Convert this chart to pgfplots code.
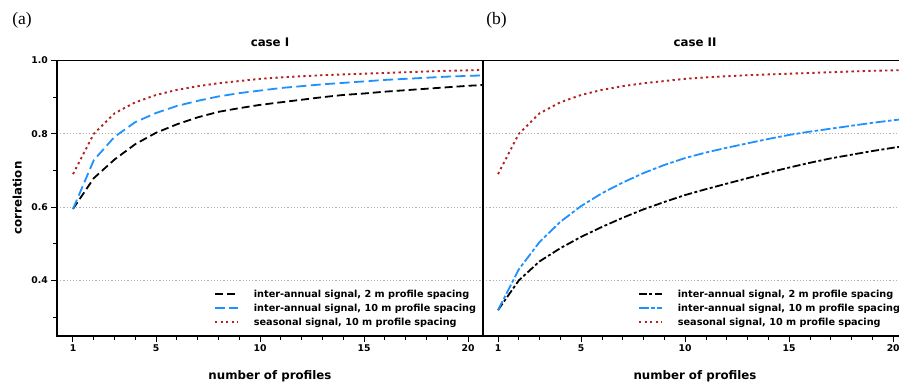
\documentclass[border=0pt]{standalone}
\usepackage{fontspec}
\setmainfont{DejaVu Sans}
\newfontfamily\seriffont{Liberation Serif}
\usepackage{pgfplots}
\usepackage{pgfplotstable}
\pgfplotsset{compat=1.18}
\definecolor{cblue}{RGB}{30,144,255}
\definecolor{cred}{RGB}{178,34,34}

\pgfplotstableread{
n  b2    b10   s10
1  0.595 0.595 0.690
2  0.679 0.728 0.800
3  0.730 0.792 0.856
4  0.772 0.832 0.886
5  0.803 0.857 0.906
6  0.826 0.876 0.920
7  0.845 0.890 0.930
8  0.860 0.902 0.938
9  0.870 0.911 0.944
10 0.879 0.918 0.950
11 0.886 0.925 0.954
12 0.893 0.930 0.957
13 0.900 0.935 0.960
14 0.906 0.939 0.962
15 0.910 0.943 0.964
16 0.915 0.947 0.966
17 0.919 0.950 0.968
18 0.923 0.953 0.970
19 0.927 0.956 0.972
20 0.931 0.958 0.973
21 0.934 0.960 0.975
}\caseone

\pgfplotstableread{
n  b2    b10   s10
1  0.319 0.319 0.690
2  0.400 0.430 0.800
3  0.452 0.505 0.856
4  0.488 0.560 0.886
5  0.519 0.603 0.906
6  0.546 0.638 0.920
7  0.571 0.667 0.930
8  0.594 0.693 0.938
9  0.614 0.715 0.944
10 0.633 0.734 0.950
11 0.649 0.749 0.954
12 0.664 0.762 0.957
13 0.679 0.774 0.960
14 0.694 0.786 0.962
15 0.708 0.797 0.964
16 0.721 0.806 0.966
17 0.733 0.814 0.968
18 0.743 0.822 0.970
19 0.753 0.830 0.972
20 0.762 0.837 0.973
21 0.770 0.843 0.975
}\casetwo

\pgfplotsset{
  panel/.style={
    scale only axis, width=426pt, height=275.5pt,
    ymin=0.2483, ymax=1.0,
    xtick={1,5,10,15,20}, minor xtick={1,...,21},
    tick align=outside, xtick pos=left, ytick pos=left,
    major tick length=5.5pt, minor tick length=3.5pt,
    every tick/.style={black, line width=1pt},
    axis line style={line width=1.3pt},
    ymajorgrids,
    major grid style={black!30, line width=1pt, dash pattern=on 1.2pt off 2pt},
    tick label style={font=\bfseries\fontsize{9.3}{11}\selectfont},
    /pgf/number format/assume math mode=true,
    yticklabel style={/pgf/number format/.cd, fixed, fixed zerofill, precision=1},
    legend cell align=left,
    legend style={draw=none, fill=none, anchor=north west,
      inner sep=0pt, outer sep=0pt, column sep=15pt, row sep=4.1pt,
      font=\bfseries\fontsize{9.7}{12}\selectfont,
      nodes={inner sep=0pt, text height=7.6pt, text depth=2.4pt, anchor=base west}},
    legend image code/.code={\draw[##1] (0pt,3.4pt) -- (23pt,3.4pt);},
  }
}

\begin{document}
\begin{tikzpicture}
\useasboundingbox (0,0) rectangle (899pt,381pt);
\clip (0,0) rectangle (899pt,381pt);

\begin{axis}[panel, at={(57pt,45pt)}, anchor=south west,
    xmin=0.231, xmax=20.712,
    ytick={0.4,0.6,0.8,1.0}, minor ytick={0.3,0.5,0.7,0.9},
    legend style={at={(0.3685,0.167)}}]
  \addplot[black, line width=1.8pt, dash pattern=on 8pt off 4pt] table[x=n,y=b2] {\caseone};
  \addlegendentry{inter-annual signal, 2 m profile spacing}
  \addplot[cblue, line width=1.8pt, dash pattern=on 10pt off 4.5pt] table[x=n,y=b10] {\caseone};
  \addlegendentry{inter-annual signal, 10 m profile spacing}
  \addplot[cred, line width=1.9pt, dash pattern=on 2.3pt off 3.3pt] table[x=n,y=s10] {\caseone};
  \addlegendentry{seasonal signal, 10 m profile spacing}
\end{axis}

\begin{axis}[panel, at={(483pt,45pt)}, anchor=south west,
    xmin=0.279, xmax=20.759,
    ytick={0.4,0.6,0.8}, minor ytick={}, yticklabels={}, ytick pos=right,
    legend style={at={(0.3638,0.167)}}]
  \addplot[black, line width=1.8pt, dash pattern=on 8pt off 2.5pt on 3pt off 2.5pt] table[x=n,y=b2] {\casetwo};
  \addlegendentry{inter-annual signal, 2 m profile spacing}
  \addplot[cblue, line width=1.8pt, dash pattern=on 10pt off 2.5pt on 3.5pt off 2.5pt] table[x=n,y=b10] {\casetwo};
  \addlegendentry{inter-annual signal, 10 m profile spacing}
  \addplot[cred, line width=1.9pt, dash pattern=on 2.3pt off 3.3pt] table[x=n,y=s10] {\casetwo};
  \addlegendentry{seasonal signal, 10 m profile spacing}
\end{axis}

\node[font=\bfseries\fontsize{11.8}{14}\selectfont, anchor=base] at (270pt,334.3pt) {case I};
\node[font=\bfseries\fontsize{11.8}{14}\selectfont, anchor=base] at (695pt,334.3pt) {case II};
\node[font=\seriffont\fontsize{17.5}{20}\selectfont, anchor=base] at (22pt,356.7pt) {(a)};
\node[font=\seriffont\fontsize{17.5}{20}\selectfont, anchor=base] at (496.5pt,356.7pt) {(b)};
\node[font=\bfseries\fontsize{11.8}{14}\selectfont, anchor=base, rotate=90] at (21.7pt,183pt) {correlation};
\node[font=\bfseries\fontsize{11.8}{14}\selectfont, anchor=base] at (270pt,1.2pt) {number of profiles};
\node[font=\bfseries\fontsize{11.8}{14}\selectfont, anchor=base] at (695pt,1.2pt) {number of profiles};
\end{tikzpicture}
\end{document}
